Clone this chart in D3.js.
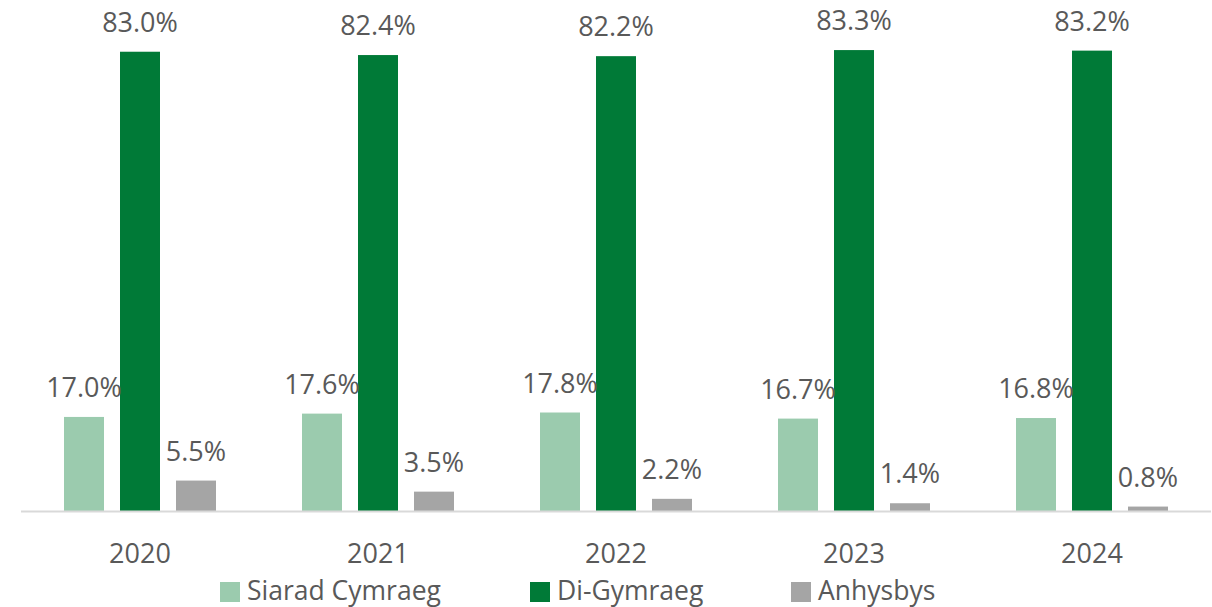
<!DOCTYPE html>
<html>
<head>
<meta charset="utf-8">
<script src="https://cdn.jsdelivr.net/npm/d3@7"></script>
<style>
  body { margin: 0; background: #fff; }
  text { font-family: "Open Sans", sans-serif; fill: #595959; }
</style>
</head>
<body>
<svg id="chart" width="1212" height="607"></svg>
<script>
const years = ["2020", "2021", "2022", "2023", "2024"];
const seriesNames = ["Siarad Cymraeg", "Di-Gymraeg", "Anhysbys"];
const siarad = [17.0, 17.6, 17.8, 16.7, 16.8];
const diGymraeg = [83.0, 82.4, 82.2, 83.3, 83.2];
const anhysbys = [5.5, 3.5, 2.2, 1.4, 0.8];
const colours = ["#9bcbae", "#007a37", "#a5a5a5"];

const svg = d3.select("#chart");
const values = [siarad, diGymraeg, anhysbys];

// rows built from the arrays
const rows = years.map((y, i) => ({
    year: y,
    vals: seriesNames.map((s, j) => ({ key: s, value: values[j][i], idx: j }))
}));

const x = d3.scaleBand()
    .domain(years)
    .range([21, 1211])
    .paddingInner(0)
    .paddingOuter(0);

const groupW = 152;
const x1 = d3.scaleBand()
    .domain(seriesNames)
    .range([0, groupW])
    .paddingInner(0.2857);

const y = d3.scaleLinear()
    .domain([0, 90])
    .range([511, 13]);

let groups = svg.selectAll(".grp")
    .data(rows)
    .enter()
    .append("g")
    .attr("class", "grp")
    .attr("transform", d => "translate(" + (x(d.year) + (x.bandwidth() - groupW) / 2) + ",0)");

groups.selectAll("rect")
    .data(d => d.vals)
    .enter()
    .append("rect")
    .attr("x", d => x1(d.key))
    .attr("y", d => y(d.value))
    .attr("width", x1.bandwidth())
    .attr("height", d => y(0) - y(d.value))
    .attr("fill", d => colours[d.idx]);

groups.selectAll(".lbl")
    .data(d => d.vals)
    .enter()
    .append("text")
    .attr("class", "lbl")
    .attr("x", d => x1(d.key) + x1.bandwidth() / 2)
    .attr("y", d => y(d.value) - 20)
    .attr("text-anchor", "middle")
    .style("font-size", "27px")
    .text(d => d.value.toFixed(1) + "%");

// axis line
svg.append("line")
    .attr("x1", 21).attr("x2", 1211)
    .attr("y1", 511.5).attr("y2", 511.5)
    .attr("stroke", "#d9d9d9")
    .attr("stroke-width", 2);

// category labels
svg.selectAll(".yr")
    .data(years)
    .enter()
    .append("text")
    .attr("class", "yr")
    .attr("x", d => x(d) + x.bandwidth() / 2)
    .attr("y", 563)
    .attr("text-anchor", "middle")
    .style("font-size", "27px")
    .text(d => d);

// legend
const legendX = [220, 530, 791];
let legend = svg.selectAll(".leg")
    .data(seriesNames)
    .enter()
    .append("g")
    .attr("class", "leg")
    .attr("transform", (d, i) => "translate(" + legendX[i] + ",0)");

legend.append("rect")
    .attr("x", 0).attr("y", 582)
    .attr("width", 20).attr("height", 20)
    .attr("fill", (d, i) => colours[i]);

legend.append("text")
    .attr("x", 27)
    .attr("y", 600)
    .style("font-size", "26.5px")
    .text(d => d);
</script>
</body>
</html>
